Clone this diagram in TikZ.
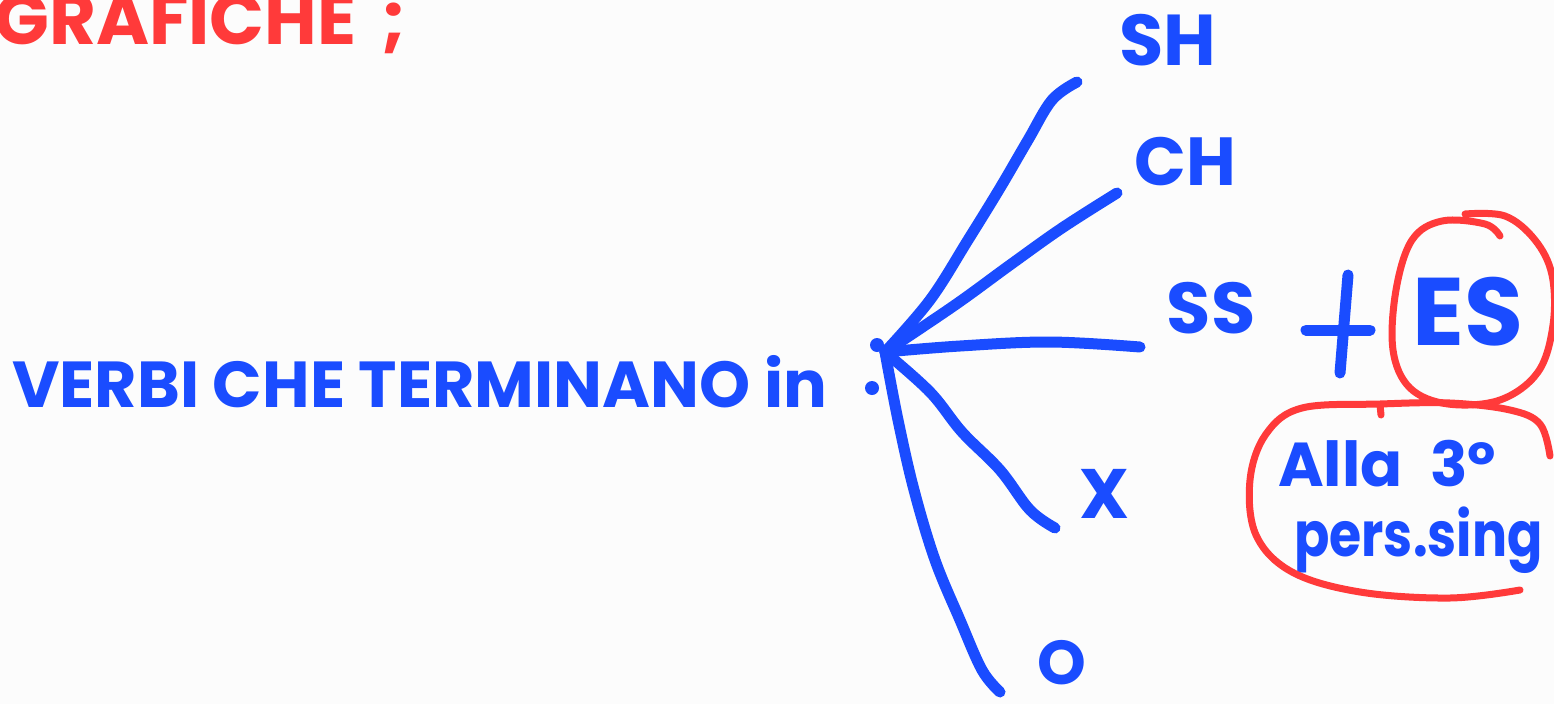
\documentclass[tikz,border=0pt]{standalone}
\usepackage{fontspec}
\setmainfont{Poppins}
\definecolor{ink}{HTML}{1A4CFF}
\definecolor{pen}{HTML}{FF3A3A}
\definecolor{paper}{HTML}{FCFCFC}
\begin{document}
\begin{tikzpicture}[x=1pt,y=-1pt,
  stroke/.style={ink,line width=11pt,line cap=round,line join=round},
  ring/.style={pen,line width=7pt,line cap=round,line join=round},
  word/.style={ink,inner sep=0pt,font=\bfseries\fontsize{#1}{#1}\selectfont},
  word/.default=64]
  % sheet
  \fill[paper] (0,0) rectangle (1554,704);
  \useasboundingbox (0,0) rectangle (1554,704);
  \clip (0,0) rectangle (1554,704);

  % heading, cut by the top edge
  \node[pen,inner sep=0pt,anchor=base west,font=\bfseries\fontsize{72}{72}\selectfont] (head) at (-6,44) {GRAFICHE\hspace{0.35em};};

  % main phrase
  \node[word=65,anchor=west] (verbi) at (12,382) {VERBI CHE TERMINANO in};

  % hub of the branches (the colon)
  \coordinate (hub) at (885,352);
  \fill[ink] (877,345) circle (7);
  \fill[ink] (872,388) circle (7);

  % endings
  \node[word=72] (sh) at (1168,40) {SH};
  \node[word=68] (ch) at (1185,162) {CH};
  \node[word=72] (ss) at (1211,308) {SS};
  \node[word=70] (x)  at (1105,494) {X};
  \node[word=62] (o)  at (1062,663) {O};

  % free ends of the branches
  \coordinate (eSH) at (1077,82);
  \coordinate (eCH) at (1117,193);
  \coordinate (eSS) at (1140,347);
  \coordinate (eX)  at (1055,528);
  \coordinate (eO)  at (1000,692);

  \draw[stroke] plot[smooth,tension=0.6] coordinates {(hub) (930,300) (968,240) (1000,188) (1028,140) (1052,100) (eSH)};
  \draw[stroke] plot[smooth,tension=0.6] coordinates {(hub) (955,305) (1010,265) (1062,228) (eCH)};
  \draw[stroke] plot[smooth,tension=0.6] coordinates {(hub) (960,346) (1050,342) (eSS)};
  \draw[stroke] plot[smooth,tension=0.6] coordinates {(hub) (930,392) (962,432) (1000,470) (1030,510) (eX)};
  \draw[stroke] plot[smooth,tension=0.6] coordinates {(hub) (898,420) (914,490) (935,560) (960,620) (982,670) (eO)};

  % plus sign
  \coordinate (plusT) at (1348,275);
  \coordinate (plusB) at (1340,373);
  \coordinate (plusL) at (1306,330);
  \coordinate (plusR) at (1370,330);
  \draw[stroke] (plusT) -- (plusB);
  \draw[stroke] (plusL) -- (plusR);

  % added ending and its ring
  \node[word=96] (es) at (1468,312) {ES};
  \draw[ring] plot[smooth,tension=0.6] coordinates {(1465,214) (1505,216) (1535,240) (1552,275) (1553,325) (1538,372) (1500,400) (1448,404) (1410,388) (1393,350) (1396,290) (1412,240) (1442,221) (1485,224) (1500,236)};

  % note and its ring
  \node[word=62,anchor=base west] (alla) at (1278,486) {Alla\hspace{0.45em}3º};
  \node[word=62,anchor=base west] (pers) at (1294,556) {\scalebox{0.84}[1]{pers.sing}};
  \draw[ring] plot[smooth,tension=0.6] coordinates {(1520,590) (1450,598) (1360,592) (1292,572) (1256,535) (1250,480) (1266,434) (1302,408) (1380,404) (1450,403) (1510,410) (1540,424) (1550,456)};
  \draw[ring] (1380,405) -- (1381,415);
\end{tikzpicture}
\end{document}
